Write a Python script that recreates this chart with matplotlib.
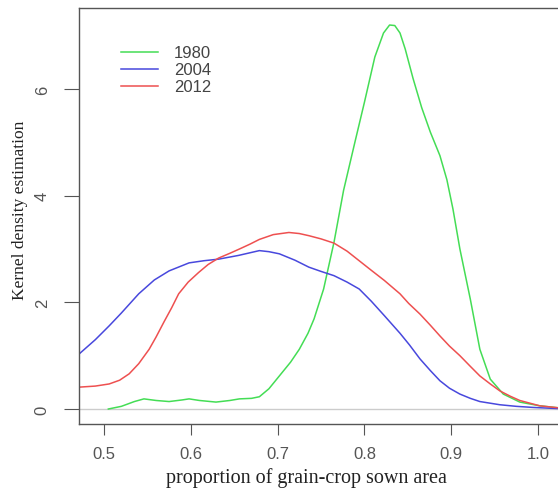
import numpy as np
import matplotlib
matplotlib.use("Agg")
import matplotlib.pyplot as plt

# values (x = proportion, y = density)
x_1980 = [0.505, 0.52, 0.535, 0.546, 0.56, 0.575, 0.59, 0.598, 0.61, 0.629, 0.645, 0.656,
          0.67, 0.679, 0.69, 0.702, 0.715, 0.725, 0.735, 0.742, 0.753, 0.765, 0.776, 0.789,
          0.800, 0.812, 0.822, 0.829, 0.835, 0.841, 0.847, 0.856, 0.866, 0.876, 0.887, 0.895,
          0.902, 0.910, 0.922, 0.933, 0.945, 0.960, 0.979, 1.002, 1.025, 1.045]
y_1980 = [0.0, 0.05, 0.14, 0.19, 0.16, 0.14, 0.17, 0.19, 0.16, 0.13, 0.16, 0.19,
          0.20, 0.23, 0.38, 0.62, 0.88, 1.12, 1.42, 1.69, 2.25, 3.13, 4.1, 5.0,
          5.75, 6.6, 7.05, 7.2, 7.19, 7.05, 6.75, 6.2, 5.65, 5.19, 4.75, 4.3,
          3.75, 3.0, 2.06, 1.12, 0.56, 0.28, 0.13, 0.06, 0.02, 0.01]

x_2004 = [0.4712, 0.49, 0.506, 0.52, 0.540, 0.558, 0.575, 0.598, 0.615, 0.632, 0.655, 0.679,
          0.690, 0.702, 0.720, 0.736, 0.750, 0.765, 0.780, 0.794, 0.808, 0.823, 0.841, 0.852,
          0.864, 0.876, 0.887, 0.898, 0.910, 0.922, 0.933, 0.956, 0.975, 0.994, 1.02, 1.045]
y_2004 = [1.03, 1.3, 1.56, 1.8, 2.16, 2.42, 2.59, 2.74, 2.78, 2.81, 2.88, 2.97,
          2.95, 2.91, 2.79, 2.66, 2.58, 2.5, 2.38, 2.25, 2.02, 1.75, 1.42, 1.2,
          0.94, 0.72, 0.53, 0.39, 0.28, 0.2, 0.14, 0.08, 0.05, 0.03, 0.01, 0.005]

x_2012 = [0.4712, 0.49, 0.506, 0.518, 0.529, 0.540, 0.552, 0.560, 0.569, 0.578, 0.586, 0.597,
          0.609, 0.620, 0.632, 0.645, 0.656, 0.668, 0.679, 0.695, 0.713, 0.725, 0.736, 0.750,
          0.765, 0.780, 0.794, 0.808, 0.823, 0.841, 0.851, 0.864, 0.876, 0.887, 0.898, 0.910,
          0.922, 0.933, 0.945, 0.956, 0.968, 0.979, 1.002, 1.025, 1.045]
y_2012 = [0.41, 0.43, 0.47, 0.54, 0.66, 0.85, 1.12, 1.35, 1.63, 1.9, 2.16, 2.38,
          2.56, 2.71, 2.83, 2.92, 3.0, 3.09, 3.18, 3.27, 3.31, 3.29, 3.25, 3.19,
          3.11, 2.96, 2.78, 2.6, 2.41, 2.16, 1.98, 1.78, 1.57, 1.37, 1.18, 1.0,
          0.8, 0.62, 0.47, 0.34, 0.24, 0.16, 0.06, 0.02, 0.01]

xticks = [0.5, 0.6, 0.7, 0.8, 0.9, 1.0]
yticks = [0, 2, 4, 6]

W, H = 558, 489
fig = plt.figure(figsize=(W / 100, H / 100), dpi=100)
# plot region runs past the right edge, as in the cropped original
ax = fig.add_axes([79 / W, (H - 425) / H, (575 - 79) / W, (425 - 9) / H])

ax.axhline(0, color="#cccccc", lw=1.0, zorder=1)
ax.plot(x_1980, y_1980, color="#44dd55", lw=1.1, label="1980")
ax.plot(x_2004, y_2004, color="#4848dd", lw=1.1, label="2004")
ax.plot(x_2012, y_2012, color="#ee5050", lw=1.1, label="2012")

ax.set_xlim(0.4712, 1.0426)
ax.set_ylim(-0.281, 7.519)

for s in ax.spines.values():
    s.set_color("#555555")
    s.set_linewidth(1.0)

ax.set_xticks(xticks)
ax.set_xticklabels(["%.1f" % v for v in xticks], family="Liberation Sans",
                   fontsize=12, color="#555555")
ax.set_yticks(yticks)
ax.set_yticklabels([str(v) for v in yticks], family="Liberation Sans",
                   fontsize=12, color="#555555", rotation=90, va="center")
ax.tick_params(axis="x", length=8, pad=8, color="#555555")
ax.tick_params(axis="y", length=11, pad=10, color="#555555")

fig.text(306 / W, 1 - 478 / H, "proportion of grain-crop sown area",
         family="Liberation Serif", fontsize=14.5, ha="center", va="center", color="#222222")
fig.text(20 / W, 1 - 210 / H, "Kernel density estimation", rotation=90,
         family="Liberation Serif", fontsize=12.5, ha="center", va="center", color="#222222")

ax.legend(loc="upper left", bbox_to_anchor=(113 / W, 1 - 38 / H),
          bbox_transform=fig.transFigure, frameon=False, handlelength=2.2,
          handletextpad=0.95, labelspacing=0.12, borderpad=0,
          prop={"family": "Liberation Sans", "size": 12})
for t in ax.get_legend().get_texts():
    t.set_color("#444444")

fig.savefig("out.png", dpi=100)
